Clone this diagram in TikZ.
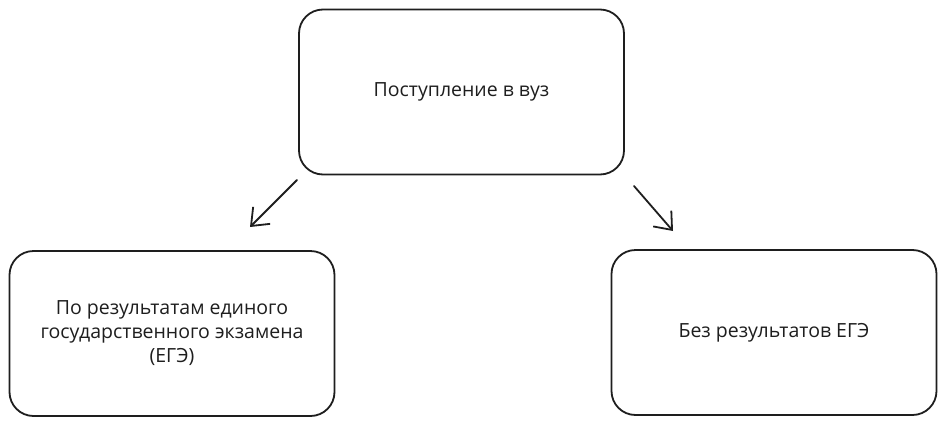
\documentclass[tikz,border=0pt]{standalone}
\usepackage{fontspec}
\setmainfont{Open Sans}
\usetikzlibrary{arrows.meta}
\definecolor{ink}{HTML}{1E1E1E}
\begin{document}
\begin{tikzpicture}[x=1pt,y=-1pt,
  box/.style={draw=ink,line width=1.8pt,rounded corners=24pt,minimum width=325pt,minimum height=165pt,inner sep=0pt,align=center,font=\fontsize{19.5}{24}\selectfont,text=ink},
  conn/.style={draw=ink,line width=1.8pt,line cap=round,-{Straight Barb[length=15pt,width=24pt,line width=1.8pt]}}]
\useasboundingbox (0,0) rectangle (946,426);
\fill[white] (0,0) rectangle (946,426);
\node[box] (top) at (461.5,92) {Поступление в вуз};
\node[box] (left) at (172,333.5) {По результатам единого\\государственного экзамена\\(ЕГЭ)};
\node[box] (right) at (774,332.5) {Без результатов ЕГЭ};
\coordinate (la) at (297,180);
\coordinate (lb) at (250,227);
\coordinate (ra) at (634,186);
\coordinate (rb) at (673,231);
\draw[conn] (la) -- (lb);
\draw[conn] (ra) -- (rb);
\end{tikzpicture}
\end{document}
